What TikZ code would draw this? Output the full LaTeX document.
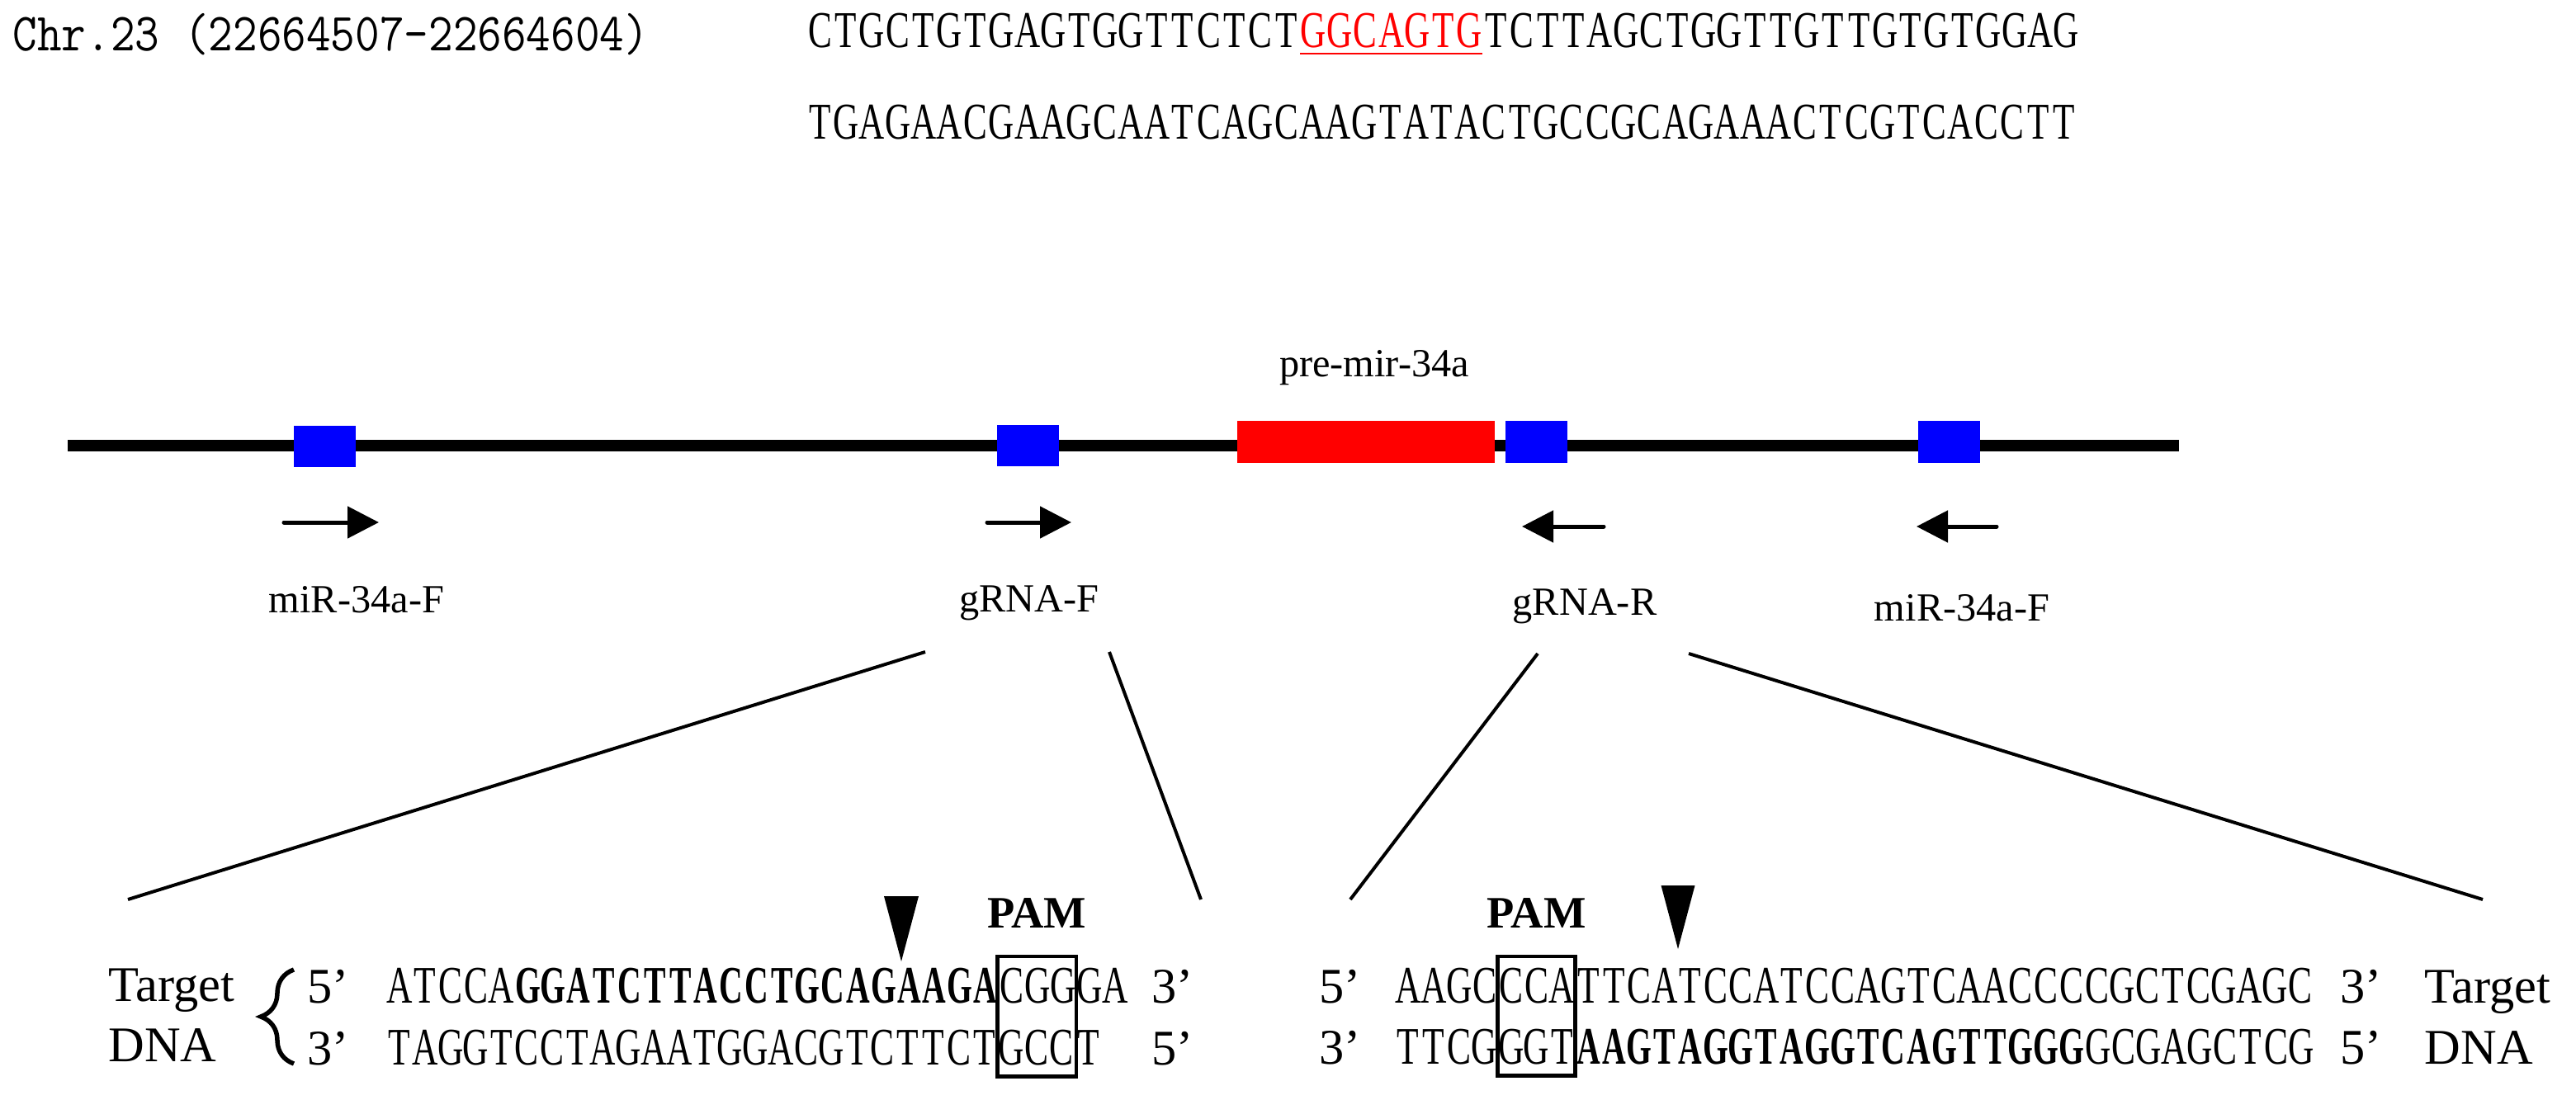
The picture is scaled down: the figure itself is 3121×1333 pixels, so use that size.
\documentclass[tikz,border=0pt]{standalone}
\usepackage{fontspec}
\setmainfont{Liberation Serif}
\usepackage{graphicx}
\usetikzlibrary{arrows.meta,positioning,fit,decorations.pathreplacing}
\newlength\cellw
\def\sx{0.7}
\newcommand\bp[1]{\makebox[\cellw]{\scalebox{\sx}[1]{#1}}}
\newcommand\bases[1]{\basesrun#1\relax}
\def\basesrun#1{\ifx#1\relax\else\bp{#1}\expandafter\basesrun\fi}

\begin{document}
\begin{tikzpicture}[x=0.1mm,y=0.1mm,
  chr/.style={inner sep=0pt, font=\ttfamily\fontsize{18.5}{20}\selectfont},
  hdr/.style={inner sep=0pt, font={\fontsize{17.8}{20}\selectfont\setlength\cellw{3.14mm}\def\sx{0.69}}},
  seq/.style={inner sep=0pt, font={\fontsize{18.2}{20}\selectfont\setlength\cellw{3.08mm}\def\sx{0.68}}},
  seqb/.style={inner sep=0pt, font={\fontsize{18.2}{20}\selectfont\bfseries\setlength\cellw{3.08mm}\def\sx{0.62}}},
  txt/.style={inner sep=0pt, font=\fontsize{17.2}{20}\selectfont},
  lbl/.style={inner sep=0pt, font=\fontsize{13.75}{16}\selectfont},
  blk/.style={minimum width=7.5mm, minimum height=5mm, inner sep=0pt},
  prm/.style={line width=0.5mm, line cap=round, -{Triangle[length=3.8mm,width=3.8mm]}},
  fan/.style={line width=0.4mm},
  pambox/.style={draw, line width=0.45mm, inner xsep=0pt, inner ysep=1.3mm},
  pamlbl/.style={inner sep=0pt, font=\fontsize{15.5}{18}\selectfont\bfseries}]
\useasboundingbox (0,0) rectangle (3121,-1333);

\node[chr, anchor=base west] (chr) at (15,-62) {\scalebox{0.885}[1]{Chr.23 (22664507-22664604)}};
\node[hdr, anchor=base west] (h1a) at (977,-58) {\bases{CTGCTGTGAGTGGTTCTCT}};
\node[hdr, red, base right=0pt of h1a] (h1b) {\bases{GGCAGTG}};
\node[hdr, base right=0pt of h1b] (h1c) {\bases{TCTTAGCTGGTTGTTGTGTGGAG}};
\draw[red, line width=0.27mm] ([yshift=-0.7mm]h1b.base west) -- ([yshift=-0.7mm]h1b.base east);
\node[hdr, anchor=base west] (h2) at (977,-169) {\bases{TGAGAACGAAGCAATCAGCAAGTATACTGCCGCAGAAACTCGTCACCTT}};

\draw[line width=1.4mm] (82,-540) -- (2640,-540);
\node[blk, fill=blue] (b1) at (393.5,-541) {};
\node[blk, fill=blue] (b2) at (1245.5,-540) {};
\node[blk, fill=red, minimum width=31.2mm, minimum height=5.1mm] (pre) at (1655,-535.5) {};
\node[blk, fill=blue, minimum height=5.1mm] (b3) at (1861.5,-535.5) {};
\node[blk, fill=blue, minimum height=5.1mm] (b4) at (2361.5,-535.5) {};
\node[lbl, anchor=base] (prelbl) at (1665,-457) {pre-mir-34a};

\coordinate (a1s) at (344,-633);  \coordinate (a1e) at (459,-633);
\coordinate (a2s) at (1196,-633); \coordinate (a2e) at (1298,-633);
\coordinate (a3s) at (1943,-638); \coordinate (a3e) at (1844,-638);
\coordinate (a4s) at (2419,-638); \coordinate (a4e) at (2322,-638);
\draw[prm] (a1s) -- (a1e);
\draw[prm] (a2s) -- (a2e);
\draw[prm] (a3s) -- (a3e);
\draw[prm] (a4s) -- (a4e);

\node[lbl, anchor=base] (l1) at (432,-742) {miR-34a-F};
\node[lbl, anchor=base] (l2) at (1247,-741) {gRNA-F};
\node[lbl, anchor=base] (l3) at (1920,-745) {gRNA-R};
\node[lbl, anchor=base] (l4) at (2377,-752) {miR-34a-F};

\coordinate (f1) at (1121,-790); \coordinate (g1) at (155,-1090);
\coordinate (f2) at (1344,-790); \coordinate (g2) at (1455,-1090);
\coordinate (f3) at (1863,-792); \coordinate (g3) at (1636,-1090);
\coordinate (f4) at (2046,-792); \coordinate (g4) at (3008,-1090);
\draw[fan] (f1) -- (g1);
\draw[fan] (f2) -- (g2);
\draw[fan] (f3) -- (g3);
\draw[fan] (f4) -- (g4);

\node[txt, anchor=base west] (tgL) at (131,-1213) {Target};
\node[txt, anchor=base west] (dnaL) at (131,-1286) {DNA};
\draw[decorate, decoration={brace, amplitude=4mm}, line width=0.55mm] (356,-1289) -- (356,-1175);
\node[txt, anchor=base west] (p5L) at (372,-1215) {5’};
\node[txt, anchor=base west] (p3L) at (372,-1290) {3’};
\node[seq, anchor=base west] (s1a) at (468,-1215) {\bases{ATCCA}};
\node[seqb, base right=0pt of s1a] (s1b) {\bases{GGATCTTACCTGCAGAAGA}};
\node[seq, base right=0pt of s1b] (s1c) {\bases{CGG}};
\node[seq, base right=0pt of s1c] (s1d) {\bases{GA}};
\node[seq, anchor=base west] (s2a) at (468,-1290) {\bases{TAGGTCCTAGAATGGACGTCTTCT}};
\node[seq, base right=0pt of s2a] (s2b) {\bases{GCC}};
\node[seq, base right=0pt of s2b] (s2c) {\bases{T}};
\node[txt, anchor=base west] (q3L) at (1395,-1215) {3’};
\node[txt, anchor=base west] (q5L) at (1395,-1290) {5’};
\node[pambox, fit=(s1c)(s2b)] (pamL) {};
\node[pamlbl, anchor=base] (pamLt) at ([yshift=3.2mm]pamL.north) {PAM};
\coordinate (cutL) at (1092,-1165);
\fill (cutL) -- ++(-21,79) -- ++(42,0) -- cycle;

\node[txt, anchor=base west] (p5R) at (1598,-1215) {5’};
\node[txt, anchor=base west] (p3R) at (1598,-1289) {3’};
\node[seq, anchor=base west] (r1a) at (1690,-1215) {\bases{AAGC}};
\node[seq, base right=0pt of r1a] (r1b) {\bases{CCA}};
\node[seq, base right=0pt of r1b] (r1c) {\bases{TTCATCCATCCAGTCAACCCCGCTCGAGC}};
\node[seq, anchor=base west] (r2a) at (1690,-1289) {\bases{TTCG}};
\node[seq, base right=0pt of r2a] (r2b) {\bases{GGT}};
\node[seqb, base right=0pt of r2b] (r2c) {\bases{AAGTAGGTAGGTCAGTTGGG}};
\node[seq, base right=0pt of r2c] (r2d) {\bases{GCGAGCTCG}};
\node[txt, anchor=base west] (q3R) at (2835,-1215) {3’};
\node[txt, anchor=base west] (q5R) at (2835,-1289) {5’};
\node[txt, anchor=base west] (tgR) at (2937,-1215) {Target};
\node[txt, anchor=base west] (dnaR) at (2937,-1289) {DNA};
\node[pambox, fit=(r1b)(r2b)] (pamR) {};
\node[pamlbl, anchor=base] (pamRt) at ([yshift=3.2mm]pamR.north) {PAM};
\coordinate (cutR) at (2033,-1150);
\fill (cutR) -- ++(-20.5,77) -- ++(41,0) -- cycle;
\end{tikzpicture}
\end{document}
